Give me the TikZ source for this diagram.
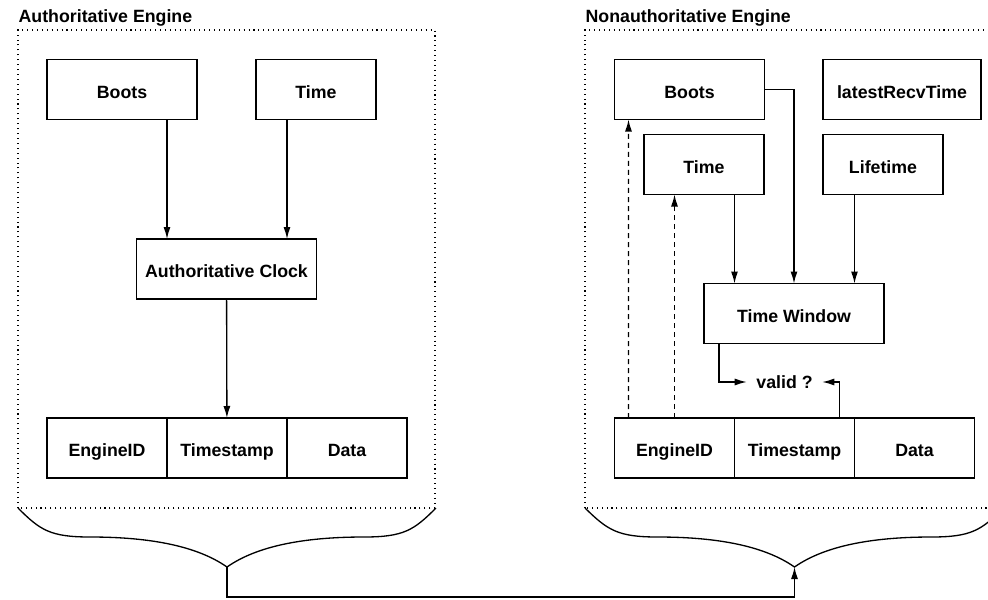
\documentclass[tikz,border=0pt]{standalone}
\usepackage{fontspec}
\setmainfont{Liberation Sans}
\usetikzlibrary{arrows.meta,positioning}

\begin{document}
\begin{tikzpicture}[x=0.2mm,y=0.2mm,line width=0.75pt,
		every node/.style={font=\fontsize{10.1}{12}\selectfont\bfseries},
		box/.style={draw,rectangle,outer sep=0pt,minimum height=12mm,text height=4mm,text depth=0.6mm},
		frame/.style={line width=0.6pt,dash pattern=on 0.6pt off 2.2pt},
		>={Latex[length=2.4mm,width=1.4mm]}]
		\useasboundingbox (0,0) rectangle (988,599);
		
		% authoritative engine
		\node[anchor=base west,inner sep=0] (authtitle) at (18,576.5) {Authoritative Engine};
		\draw[frame] (18,91) rectangle (435,569);
		\node[box,minimum width=30mm] (boots) at (122,509.5) {Boots};
		\node[box,minimum width=24mm] (time) at (316,509.5) {Time};
		\node[box,minimum width=36mm] (clock) at (226.5,330) {Authoritative Clock};
		\node[box,minimum width=24mm] (eid) at (107,151) {EngineID};
		\node[box,minimum width=24mm,right=0pt of eid] (ts) {Timestamp};
		\node[box,minimum width=24mm,right=0pt of ts] (data) {Data};
		\draw[->] (boots.south -| ts.west) -- (clock.north -| ts.west);
		\draw[->] (time.south -| ts.east) -- (clock.north -| ts.east);
		\draw[->] (clock) -- (ts);
		
		% nonauthoritative engine
		\node[anchor=base west,inner sep=0] (nonauthtitle) at (585,576.5) {Nonauthoritative Engine};
		\draw[frame] (585,91) rectangle (1004,569);
		\node[box,minimum width=30mm] (boots2) at (689.5,509.5) {Boots};
		\node[box,minimum width=31.6mm] (recv) at (902,509.5) {latestRecvTime};
		\node[box,minimum width=24mm] (time2) at (704,434.5) {Time};
		\node[box,minimum width=24mm] (life) at (883,434.5) {Lifetime};
		\node[box,minimum width=36mm] (window) at (794,285.5) {Time Window};
		\node[inner sep=1.8mm] (valid) at (784.5,217) {valid ?};
		\node[box,minimum width=24mm] (eid2) at (674.5,151) {EngineID};
		\node[box,minimum width=24mm,right=0pt of eid2] (ts2) {Timestamp};
		\node[box,minimum width=24mm,right=0pt of ts2] (data2) {Data};
		\draw[->] (boots2.east) -| (window.north);
		\draw[->] (time2.south -| ts2.west) -- (window.north -| ts2.west);
		\draw[->] (life.south -| ts2.east) -- (window.north -| ts2.east);
		\draw[->] ([xshift=3mm]window.south west) |- (valid.west);
		\draw[->] ([xshift=-3mm]ts2.north east) |- (valid.east);
		\draw[->,dash pattern=on 1mm off 0.8mm] ([xshift=2.8mm]eid2.north west) -- ([xshift=2.8mm]boots2.south west);
		\draw[->,dash pattern=on 1mm off 0.8mm] (eid2.north) -- (eid2.north |- time2.south);
		
		% braces under both engines
		\coordinate (tipA) at (227,32);
		\coordinate (tipN) at (794.5,32);
		\draw (18,91) .. controls (40,69) and (50,62) .. (90,62)
			.. controls (150,62) and (197,53) .. (tipA)
			.. controls (257,53) and (304,62) .. (364,62)
			.. controls (404,62) and (414,69) .. (436,91);
		\draw (585,91) .. controls (607.5,69) and (617.5,62) .. (657.5,62)
			.. controls (717.5,62) and (764.5,53) .. (tipN)
			.. controls (824.5,53) and (871.5,62) .. (931.5,62)
			.. controls (971.5,62) and (981.5,69) .. (1003.5,91);
		\draw[->] (tipA) -- ++(0,-30) -| (tipN);
\end{tikzpicture}
\end{document}
